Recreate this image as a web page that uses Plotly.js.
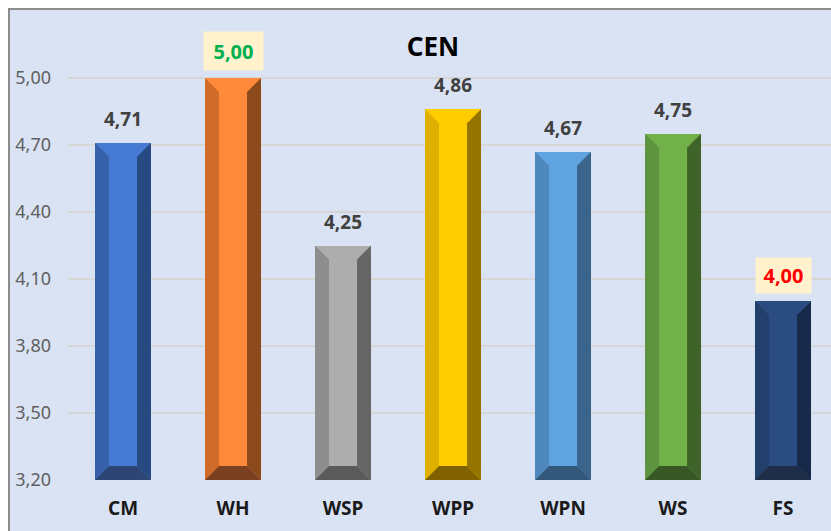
<!DOCTYPE html>
<html>
<head>
<meta charset="utf-8">
<script src="https://cdn.plot.ly/plotly-3.0.1.min.js"></script>
<style>html,body{margin:0;padding:0;background:#fff;overflow:hidden;}#chart{width:831px;height:531px;}</style>
</head>
<body>
<div id="chart"></div>
<script>
const categories = ['CM', 'WH', 'WSP', 'WPP', 'WPN', 'WS', 'FS'];
const values = [4.71, 5.00, 4.25, 4.86, 4.67, 4.75, 4.00];
const faceColors   = ['#477AD3', '#FF8A3A', '#ADADAD', '#FFCC00', '#5FA3E0', '#72B14A', '#2B4C80'];
const leftColors   = ['#3761AA', '#D06B2A', '#8E8E8E', '#E0B000', '#4F88BD', '#5E9340', '#233F6C'];
const rightColors  = ['#284A82', '#8C4A1C', '#666666', '#957400', '#3A648C', '#3F6329', '#172A4A'];
const bottomColors = ['#2D4573', '#7A4020', '#5A5A5A', '#806300', '#34587A', '#375824', '#1E2D48'];
const yTicks = [3.2, 3.5, 3.8, 4.1, 4.4, 4.7, 5.0];

const yMin = 3.2, yMax = 5.2597;
const halfW = 0.2545, bevX = 0.127, bevY = 0.0627;

const xs = categories.map((c, i) => i);
const traces = [{
  type: 'bar', x: xs, y: values, width: halfW * 2,
  marker: {color: faceColors, line: {width: 0}},
  hoverinfo: 'skip', showlegend: false
}];

function poly(px, py, color) {
  traces.push({
    type: 'scatter', mode: 'lines', x: px.concat([px[0]]), y: py.concat([py[0]]),
    fill: 'toself', fillcolor: color, line: {width: 0, color: color},
    hoverinfo: 'skip', showlegend: false
  });
}

values.forEach((v, i) => {
  const L = i - halfW, R = i + halfW, b = yMin;
  poly([L, L, L + bevX, L + bevX], [b, v, v - bevY, b + bevY], leftColors[i]);
  poly([R, R, R - bevX, R - bevX], [b, v, v - bevY, b + bevY], rightColors[i]);
  poly([L, R, R - bevX, L + bevX], [b, b, b + bevY, b + bevY], bottomColors[i]);
});

const vMax = Math.max(...values), vMin = Math.min(...values);
const fmt = v => v.toFixed(2).replace('.', ',');
const annotations = values.map((v, i) => {
  const isMax = v === vMax, isMin = v === vMin;
  const boxed = isMax || isMin;
  const a = {
    x: i, y: v, xref: 'x', yref: 'y', text: fmt(v), showarrow: false,
    yanchor: 'bottom', xanchor: 'center', yshift: boxed ? 7 : 10,
    font: {family: 'Noto Sans', size: boxed ? 20 : 19, weight: 'bold', color: isMax ? '#00B050' : (isMin ? '#FF0000' : '#404040')},
    bgcolor: boxed ? '#FFF2CC' : 'rgba(0,0,0,0)', borderpad: boxed ? 6 : 0
  };
  if (boxed) { a.width = isMax ? 47 : 43; a.height = isMax ? 26 : 23; }
  return a;
});

const layout = {
  width: 831, height: 531,
  margin: {l: 68, r: 0, t: 20, b: 51, pad: 0},
  paper_bgcolor: '#FFFFFF', plot_bgcolor: 'rgba(0,0,0,0)',
  separators: ',.',
  title: {text: '<b>CEN</b>', x: 0.521, xref: 'container', xanchor: 'center', y: 0.911, yref: 'container', yanchor: 'middle',
          font: {family: 'Noto Sans', size: 26, color: '#000000'}},
  xaxis: {
    range: [-0.5, 6.436], tickvals: xs, ticktext: categories.map(c => '<b>' + c + '</b>'),
    showgrid: false, zeroline: false, showline: false, ticks: '',
    tickfont: {family: 'Noto Sans', size: 19, color: '#1A1A1A'}, ticklabelstandoff: 15, fixedrange: true
  },
  yaxis: {
    range: [yMin, yMax], tickvals: yTicks, tickformat: '.2f',
    showgrid: true, gridcolor: '#D6D6D6', gridwidth: 1.5, zeroline: false, showline: false, ticks: '',
    tickfont: {family: 'Noto Sans', size: 18, color: '#606060'}, ticklabelstandoff: 16, fixedrange: true
  },
  bargap: 0,
  shapes: [{
    type: 'rect', xref: 'paper', yref: 'paper', x0: -0.07733, x1: 1.3, y0: -0.3, y1: 1.02391,
    fillcolor: '#DAE3F3', line: {color: '#8C8C8C', width: 2}, layer: 'below'
  }],
  annotations: annotations
};

Plotly.newPlot('chart', traces, layout, {displayModeBar: false, staticPlot: true});
</script>
</body>
</html>
